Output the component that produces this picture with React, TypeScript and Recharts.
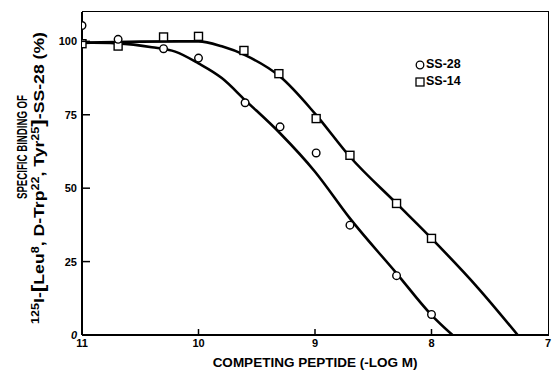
import { ComposedChart, Line, Scatter, XAxis, YAxis } from 'recharts'

// measured points (-log M, % bound)
const ss28X = [11, 10.69, 10.3, 10.0, 9.6, 9.3, 8.99, 8.7, 8.3, 8.0]
const ss28Y = [105.4, 100.7, 97.5, 94.3, 79.1, 70.9, 62.0, 37.4, 20.2, 7.0]
const ss14X = [11, 10.69, 10.3, 10.0, 9.61, 9.31, 8.99, 8.7, 8.3, 8.0]
const ss14Y = [99.2, 98.4, 101.5, 101.7, 96.9, 89.0, 73.7, 61.2, 44.8, 32.9]

// fitted curves
const fit28X = [11, 10.7, 10.4, 10.2, 10.0, 9.8, 9.6, 9.3, 9.0, 8.7, 8.3, 8.0, 7.82]
const fit28Y = [99.6, 99.3, 98.0, 96.5, 92.5, 87.5, 80.0, 68.7, 55.6, 39.7, 21.0, 6.8, 0]
const fit14X = [11, 10.5, 10.0, 9.8, 9.6, 9.3, 9.0, 8.7, 8.3, 8.0, 7.6, 7.26]
const fit14Y = [99.5, 99.9, 100.0, 98.3, 95.3, 88.0, 75.4, 60.7, 44.8, 32.9, 16.0, 0]

const xTicks = [11, 10, 9, 8, 7]
const yTicks = [0, 25, 50, 75, 100]
const xMin = 7
const xMax = 11
const yMax = 110

const toPts = (xs: number[], ys: number[]) => xs.map((x, i) => ({ x, y: ys[i] }))

const font = '"Liberation Sans", Arial, sans-serif'

const BottomTick = ({ x, y, payload }: any) => {
  const v = payload.value
  return (
    <g>
      {v < xMax && v > xMin && <line x1={x} x2={x} y1={y} y2={y - 6} stroke="#000" strokeWidth={1.5} />}
      <text x={x} y={y + 12} textAnchor="middle" fontSize={11} fontWeight="bold" fontFamily={font} fill="#000">
        {v}
      </text>
    </g>
  )
}

const LeftTick = ({ x, y, payload }: any) => {
  const v = payload.value
  return (
    <g>
      {v > 0 && <line x1={x} x2={x + 8} y1={y} y2={y} stroke="#000" strokeWidth={1.5} />}
      <text
        x={x - 5}
        y={y + 4}
        textAnchor="end"
        fontSize={11}
        fontWeight="bold"
        fontStyle={v === 0 ? 'italic' : 'normal'}
        fontFamily={font}
        fill="#000"
      >
        {v}
      </text>
    </g>
  )
}

const YTitle = () => (
  <g fontFamily={font} fontWeight="bold" fill="#000">
    <text
      transform="translate(27,147) rotate(-90)"
      textAnchor="middle"
      fontSize={15}
      textLength={104}
      lengthAdjust="spacingAndGlyphs"
    >
      SPECIFIC BINDING OF
    </text>
    <text
      transform="translate(44,178) rotate(-90)"
      textAnchor="middle"
      fontSize={14}
      textLength={292}
      lengthAdjust="spacingAndGlyphs"
    >
      <tspan fontSize={10} dy={-5}>125</tspan>
      <tspan dy={5}>I-</tspan>
      <tspan fontSize={18}>[</tspan>
      <tspan>Leu</tspan>
      <tspan fontSize={10} dy={-5}>8</tspan>
      <tspan dy={5}>, D-Trp</tspan>
      <tspan fontSize={10} dy={-5}>22</tspan>
      <tspan dy={5}>, Tyr</tspan>
      <tspan fontSize={10} dy={-5}>25</tspan>
      <tspan dy={5} fontSize={18}>]</tspan>
      <tspan>-SS-28 (%)</tspan>
    </text>
  </g>
)

const OpenCircle = ({ cx, cy }: any) => <circle cx={cx} cy={cy} r={3.8} fill="#fff" stroke="#000" strokeWidth={1.4} />
const OpenSquare = ({ cx, cy }: any) => (
  <rect x={cx - 4} y={cy - 4} width={8} height={8} fill="#fff" stroke="#000" strokeWidth={1.4} />
)

export default function App() {
  return (
    <div style={{ position: 'absolute', left: 0, top: 0, width: 556, height: 371, background: '#fff' }}>
      <ComposedChart width={556} height={371} margin={{ top: 12, right: 8, left: 0, bottom: 0 }}>
        <XAxis
          dataKey="x"
          type="number"
          domain={[xMin, xMax]}
          reversed
          ticks={xTicks}
          allowDataOverflow
          height={36}
          tickSize={0}
          tickMargin={0}
          tickLine={false}
          tick={<BottomTick />}
          axisLine={{ stroke: '#000', strokeWidth: 2 }}
          label={{
            value: 'COMPETING PEPTIDE (-LOG M)',
            position: 'insideBottom',
            offset: 4,
            fill: '#000',
            fontSize: 13.5,
            fontWeight: 'bold',
            fontFamily: font,
          }}
        />
        <YAxis
          type="number"
          domain={[0, yMax]}
          ticks={yTicks}
          allowDataOverflow
          width={82}
          tickSize={0}
          tickMargin={0}
          tickLine={false}
          tick={<LeftTick />}
          axisLine={{ stroke: '#000', strokeWidth: 2 }}
          label={{ content: () => <YTitle /> }}
        />
        <Line
          data={toPts(fit28X, fit28Y)}
          dataKey="y"
          type="monotone"
          stroke="#000"
          strokeWidth={2.6}
          dot={false}
          isAnimationActive={false}
        />
        <Line
          data={toPts(fit14X, fit14Y)}
          dataKey="y"
          type="monotone"
          stroke="#000"
          strokeWidth={2.6}
          dot={false}
          isAnimationActive={false}
        />
        <Scatter data={toPts(ss14X, ss14Y)} dataKey="y" shape={<OpenSquare />} isAnimationActive={false} />
        <Scatter data={toPts(ss28X, ss28Y)} dataKey="y" shape={<OpenCircle />} isAnimationActive={false} />
      </ComposedChart>
      {/* top and right edges of the plot frame */}
      <div
        style={{
          position: 'absolute',
          left: 82,
          top: 11,
          width: 467,
          height: 325,
          boxSizing: 'border-box',
          borderTop: '1.5px solid #000',
          borderRight: '1.5px solid #000',
          pointerEvents: 'none',
        }}
      />
      <div
        style={{
          position: 'absolute',
          left: 415,
          top: 56,
          fontFamily: font,
          fontWeight: 'bold',
          fontSize: 12.5,
          lineHeight: '17px',
          color: '#000',
        }}
      >
        <div style={{ display: 'flex', alignItems: 'center' }}>
          <svg width={10} height={10} style={{ marginRight: 1 }}>
            <circle cx={5} cy={5} r={3.8} fill="none" stroke="#000" strokeWidth={1.3} />
          </svg>
          SS-28
        </div>
        <div style={{ display: 'flex', alignItems: 'center' }}>
          <svg width={10} height={10} style={{ marginRight: 1 }}>
            <rect x={1} y={1} width={8} height={8} fill="none" stroke="#000" strokeWidth={1.3} />
          </svg>
          SS-14
        </div>
      </div>
    </div>
  )
}
